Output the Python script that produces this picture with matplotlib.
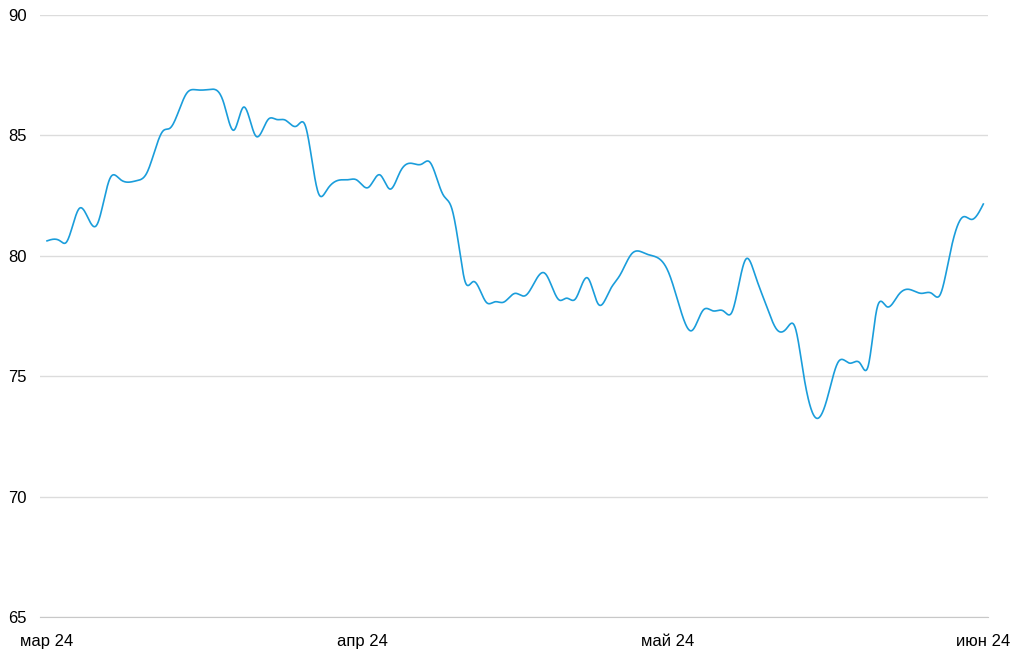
import matplotlib.pyplot as plt
import numpy as np

# days since 1 March 2024
days = [0.0, 1.28, 1.87, 3.18, 4.89, 6.19, 7.17, 8.82, 9.79, 11.43, 12.08, 13.72,
        14.70, 16.01, 17.32, 18.37, 19.29, 20.50, 21.74, 22.56, 23.38, 24.53, 25.35,
        26.66, 27.48, 28.79, 29.60, 30.42, 31.57, 32.71, 33.70, 34.69, 35.83, 36.82,
        37.56, 38.93, 39.76, 40.57, 41.07, 41.88, 43.20, 44.01, 44.83, 45.98, 46.96,
        48.92, 50.33, 51.05, 51.87, 53.11, 54.16, 55.30, 56.29, 57.43, 58.91, 61.03,
        62.35, 63.33, 64.47, 65.45, 66.44, 67.26, 68.67, 69.56, 70.70, 71.69, 72.67,
        73.49, 74.30, 75.62, 76.60, 77.74, 78.88, 79.87, 80.68, 81.50, 82.49, 83.63,
        84.61, 85.93, 86.91, 87.72, 88.71, 90.02, 90.84, 91.98]
values = [80.62, 80.62, 80.55, 81.97, 81.28, 83.22, 83.18, 83.12, 83.43, 85.2, 85.3,
          86.75, 86.89, 86.91, 86.4, 85.22, 86.17, 84.98, 85.67, 85.66, 85.64, 85.39,
          85.43, 82.6, 82.73, 83.15, 83.16, 83.15, 82.84, 83.36, 82.77, 83.49, 83.84,
          83.81, 83.91, 82.52, 81.97, 80.1, 78.93, 78.93, 78.05, 78.09, 78.07, 78.44,
          78.34, 79.27, 78.16, 78.24, 78.19, 79.08, 77.99, 78.58, 79.2, 80.08, 80.07,
          79.34, 77.6, 76.89, 77.75, 77.71, 77.71, 77.64, 79.87, 79.2, 77.89, 76.94,
          76.99, 77.03, 75.12, 73.25, 74.01, 75.6, 75.54, 75.54, 75.44, 77.75, 77.89,
          78.37, 78.61, 78.44, 78.44, 78.37, 80.1, 81.62, 81.51, 82.15]

tick_days = [0, 31, 61, 92]
tick_labels = ["мар 24", "апр 24", "май 24", "июн 24"]
y_ticks = [65, 70, 75, 80, 85, 90]


def natural_spline(x, y, n=30):
    # natural cubic spline through the points (the original draws a smoothed line)
    x = np.asarray(x, float)
    y = np.asarray(y, float)
    k = len(x)
    h = np.diff(x)
    a = np.zeros((k, k))
    b = np.zeros(k)
    a[0, 0] = a[-1, -1] = 1
    for i in range(1, k - 1):
        a[i, i - 1] = h[i - 1]
        a[i, i] = 2 * (h[i - 1] + h[i])
        a[i, i + 1] = h[i]
        b[i] = 3 * ((y[i + 1] - y[i]) / h[i] - (y[i] - y[i - 1]) / h[i - 1])
    c = np.linalg.solve(a, b)
    xs, ys = [], []
    for i in range(k - 1):
        t = np.linspace(0, h[i], n, endpoint=False)
        bi = (y[i + 1] - y[i]) / h[i] - h[i] * (2 * c[i] + c[i + 1]) / 3
        di = (c[i + 1] - c[i]) / (3 * h[i])
        xs.append(x[i] + t)
        ys.append(y[i] + bi * t + c[i] * t ** 2 + di * t ** 3)
    xs.append([x[-1]])
    ys.append([y[-1]])
    return np.concatenate(xs), np.concatenate(ys)


fig = plt.figure(figsize=(10.24, 6.55), dpi=100)
ax = fig.add_axes([40 / 1024, 38 / 655, 948 / 1024, 602 / 655])

sx, sy = natural_spline(days, values)
ax.plot(sx, sy, color="#1a9ddb", linewidth=1.2)

ax.set_xlim(-0.69, 92.44)
ax.set_ylim(65, 90)
ax.set_yticks(y_ticks)
ax.set_xticks(tick_days)
ax.set_xticklabels(tick_labels)
ax.grid(axis="y", color="#dcdcdc", linewidth=1)
ax.set_axisbelow(True)
for s in ["top", "right", "left"]:
    ax.spines[s].set_visible(False)
ax.spines["bottom"].set_color("#c8c8c8")
ax.tick_params(axis="both", length=0, labelsize=12, labelcolor="#000000")
ax.tick_params(axis="y", pad=23)
ax.tick_params(axis="x", pad=12)
for lab in ax.get_yticklabels():
    lab.set_horizontalalignment("left")
    lab.set_fontfamily("Liberation Sans")
for lab in ax.get_xticklabels():
    lab.set_fontfamily("Liberation Sans")

fig.savefig("out.png", dpi=100)
